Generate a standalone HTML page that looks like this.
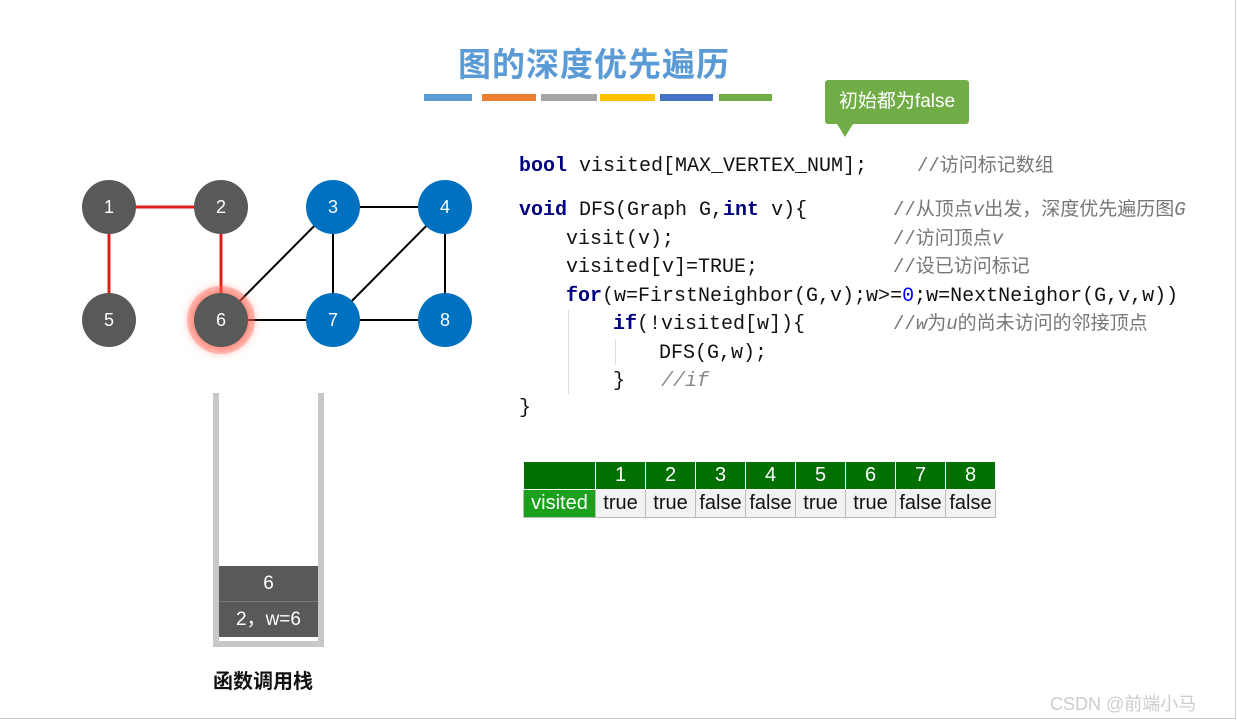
<!DOCTYPE html>
<html><head><meta charset="utf-8"><style>
body{margin:0;width:1237px;height:720px;background:#fff;position:relative;overflow:hidden;font-family:"Liberation Sans","Noto Sans CJK SC",sans-serif}
.a{position:absolute}
.code{position:absolute;font-family:"Liberation Mono","Noto Sans CJK SC",monospace;font-size:20px;color:#111;white-space:pre;line-height:1}
.k{color:#000080;font-weight:bold}
.c{position:absolute;font-family:"Liberation Mono","Noto Sans CJK SC",monospace;font-size:19px;color:#777;white-space:pre;line-height:1}
.n{position:absolute;width:54px;height:54px;border-radius:50%;color:#fff;font-size:18px;text-align:center;line-height:54px}
.g{background:#595959}.b{background:#0070c0}
table{border-collapse:collapse;position:absolute;left:523px;top:461px;font-size:20px}
td{border:1px solid #bbb;height:27px;padding:0;text-align:center;width:49px;background:#f2f2f2;color:#111}
tr:first-child td{background:#007000;color:#fff;border-color:#fff}
</style></head><body>
<div class="a" style="left:0;top:0;width:1235px;height:718px;border-right:1px solid #ccc;border-bottom:1px solid #ccc"></div>
<div class="a" style="left:458px;top:38px;font-size:33px;color:#5b9bd5;font-weight:bold;letter-spacing:1px">图的深度优先遍历</div>
<div class="a" style="left:424px;top:94px;width:48px;height:7px;background:#5b9bd5"></div>
<div class="a" style="left:482px;top:94px;width:54px;height:7px;background:#ed7d31"></div>
<div class="a" style="left:541px;top:94px;width:56px;height:7px;background:#a5a5a5"></div>
<div class="a" style="left:600px;top:94px;width:55px;height:7px;background:#ffc000"></div>
<div class="a" style="left:660px;top:94px;width:53px;height:7px;background:#4472c4"></div>
<div class="a" style="left:719px;top:94px;width:53px;height:7px;background:#70ad47"></div>
<div class="a" style="left:825px;top:80px;width:144px;height:44px;background:#70ad47;border-radius:3px;color:#fff;font-size:19px;line-height:44px;text-align:center">初始都为false</div>
<div class="a" style="left:837px;top:124px;width:0;height:0;border-left:8px solid transparent;border-right:8px solid transparent;border-top:13px solid #70ad47"></div>

<svg class="a" style="left:0;top:0" width="500" height="400">
<line x1="109" y1="207" x2="221" y2="207" stroke="#e0201a" stroke-width="3"/>
<line x1="109" y1="207" x2="109" y2="320" stroke="#e0201a" stroke-width="3"/>
<line x1="221" y1="207" x2="221" y2="320" stroke="#e0201a" stroke-width="3"/>
<g stroke="#000" stroke-width="2">
<line x1="333" y1="207" x2="445" y2="207"/><line x1="333" y1="207" x2="221" y2="320"/>
<line x1="333" y1="207" x2="333" y2="320"/><line x1="445" y1="207" x2="333" y2="320"/>
<line x1="445" y1="207" x2="445" y2="320"/><line x1="221" y1="320" x2="445" y2="320"/>
</g>
<circle cx="221" cy="320" r="34" fill="#ff6a5a" opacity="0.35"/>
</svg>
<div class="n g" style="left:82px;top:180px">1</div>
<div class="n g" style="left:194px;top:180px">2</div>
<div class="n b" style="left:306px;top:180px">3</div>
<div class="n b" style="left:418px;top:180px">4</div>
<div class="n g" style="left:82px;top:293px">5</div>
<div class="n g" style="left:194px;top:293px;box-shadow:0 0 10px 4px rgba(255,80,60,.6)">6</div>
<div class="n b" style="left:306px;top:293px">7</div>
<div class="n b" style="left:418px;top:293px">8</div>

<div class="code" style="left:519px;top:157px"><span class="k">bool</span> visited[MAX_VERTEX_NUM];</div>
<div class="c" style="left:917px;top:157px">//访问标记数组</div>
<div class="code" style="left:519px;top:201px"><span class="k">void</span> DFS(Graph G,<span class="k">int</span> v){</div>
<div class="code" style="left:566px;top:230px">visit(v);</div>
<div class="code" style="left:566px;top:258px">visited[v]=TRUE;</div>
<div class="code" style="left:566px;top:287px"><span class="k">for</span>(w=FirstNeighbor(G,v);w&gt;=<span style="color:#00f">0</span>;w=NextNeighor(G,v,w))</div>
<div class="code" style="left:613px;top:315px"><span class="k">if</span>(!visited[w]){</div>
<div class="code" style="left:659px;top:344px">DFS(G,w);</div>
<div class="code" style="left:613px;top:372px">}   <span style="color:#888;font-style:italic">//if</span></div>
<div class="code" style="left:519px;top:399px">}</div>
<div class="c" style="left:893px;top:201px">//从顶点<i>v</i>出发，深度优先遍历图<i>G</i></div>
<div class="c" style="left:893px;top:230px">//访问顶点<i>v</i></div>
<div class="c" style="left:893px;top:258px">//设已访问标记</div>
<div class="c" style="left:893px;top:315px">//<i>w</i>为<i>u</i>的尚未访问的邻接顶点</div>
<div class="a" style="left:568px;top:310px;width:1px;height:84px;background:#ddd"></div>
<div class="a" style="left:615px;top:339px;width:1px;height:26px;background:#ddd"></div>

<table><tr><td style="width:71px"></td><td>1</td><td>2</td><td>3</td><td>4</td><td>5</td><td>6</td><td>7</td><td>8</td></tr>
<tr><td style="background:#1aa01a;color:#fff">visited</td><td>true</td><td>true</td><td>false</td><td>false</td><td>true</td><td>true</td><td>false</td><td>false</td></tr></table>

<div class="a" style="left:213px;top:393px;width:6px;height:254px;background:#c8c8c8"></div>
<div class="a" style="left:318px;top:393px;width:6px;height:254px;background:#c8c8c8"></div>
<div class="a" style="left:213px;top:641px;width:111px;height:6px;background:#c8c8c8"></div>
<div class="a" style="left:219px;top:566px;width:99px;height:35px;background:#595959;color:#fff;font-size:19px;text-align:center;line-height:36px">6</div>
<div class="a" style="left:219px;top:601px;width:99px;height:35px;background:#595959;border-top:1px solid #777;color:#fff;font-size:19px;text-align:center;line-height:36px">2，w=6</div>
<div class="a" style="left:213px;top:665px;font-size:20px;font-weight:bold;color:#111">函数调用栈</div>
<div class="a" style="left:1050px;top:690px;font-size:18px;color:#ccc">CSDN @前端小马</div>
</body></html>
